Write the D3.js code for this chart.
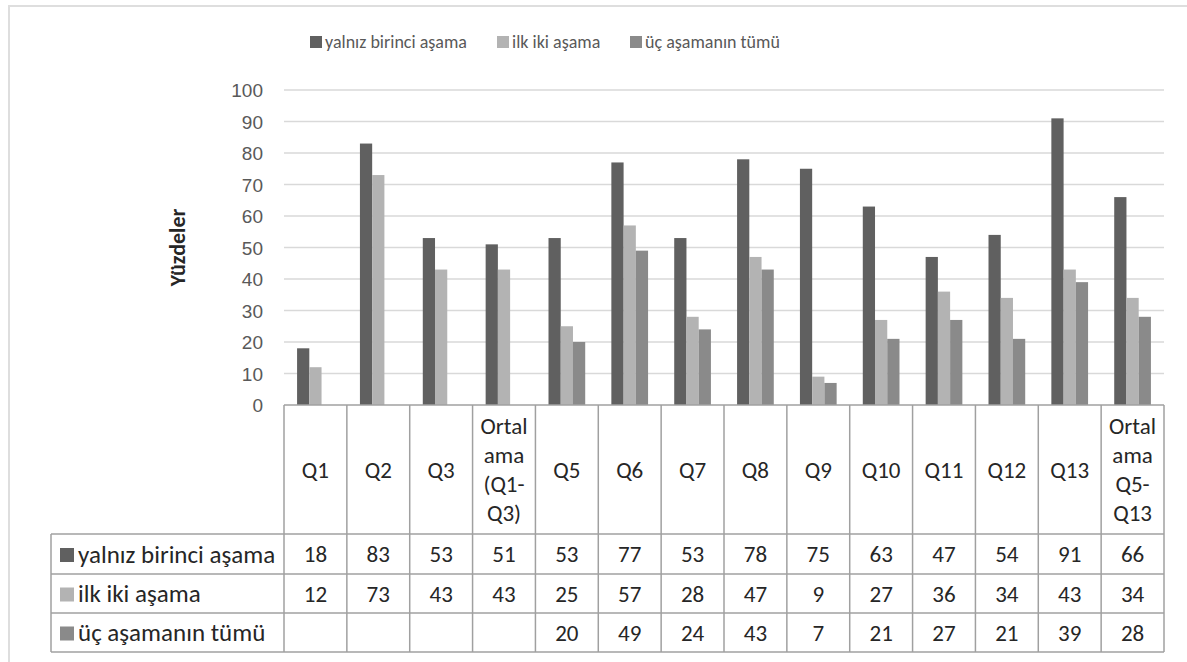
<!DOCTYPE html>
<html>
<head>
<meta charset="utf-8">
<script src="https://cdn.jsdelivr.net/npm/d3@7"></script>
<style>
  html, body { margin: 0; padding: 0; background: #fff; }
  svg { display: block; font-family: Calibri, Carlito, Lato, sans-serif; }
</style>
</head>
<body>
<svg id="chart" width="1187" height="662"></svg>
<script>
// ---------- data ----------
const categories = ["Q1", "Q2", "Q3", "Ortal\nama\n(Q1-\nQ3)", "Q5", "Q6", "Q7", "Q8", "Q9", "Q10", "Q11", "Q12", "Q13", "Ortal\nama\nQ5-\nQ13"];
const seriesNames = ["yalnız birinci aşama", "ilk iki aşama", "üç aşamanın tümü"];
const firstStage = [18, 83, 53, 51, 53, 77, 53, 78, 75, 63, 47, 54, 91, 66];
const firstTwoStages = [12, 73, 43, 43, 25, 57, 28, 47, 9, 27, 36, 34, 43, 34];
const allThreeStages = [null, null, null, null, 20, 49, 24, 43, 7, 21, 27, 21, 39, 28];
const yTicks = [0, 10, 20, 30, 40, 50, 60, 70, 80, 90, 100];
const yTitle = "Yüzdeler";
const seriesColors = ["#606060", "#b3b3b3", "#8a8a8a"];

const seriesValues = [firstStage, firstTwoStages, allThreeStages];

// ---------- layout ----------
const svg = d3.select("#chart");
const plotLeft = 284, plotRight = 1164;
const plotTop = 90, plotBottom = 405;
const tableLeft = 51;
const headerBottom = 534;
const rowBottoms = [574, 613, 652];
const gridColor = "#d9d9d9";
const tableColor = "#a0a0a0";
const tableFont = "23px";
const rowLabelFont = "25px";

// outer frame
svg.append("rect")
  .attr("x", 9).attr("y", 6)
  .attr("width", 1200).attr("height", 700)
  .attr("fill", "none").attr("stroke", "#dedede").attr("stroke-width", 2);

// scales
const x0 = d3.scaleBand().domain(categories).range([plotLeft, plotRight]).padding(0);
const bw = x0.bandwidth();
const gap = bw * 0.416;
const x1 = d3.scaleBand().domain(seriesNames).range([gap / 2, bw - gap / 2]).padding(0);
const y = d3.scaleLinear().domain([0, 100]).range([plotBottom, plotTop]);

// y axis labels
const yAxis = d3.axisLeft(y).tickValues(yTicks).tickSize(0).tickPadding(0);
const gAxis = svg.append("g").attr("transform", `translate(${263},0)`).call(yAxis);
gAxis.select(".domain").remove();
gAxis.selectAll("text")
  .attr("fill", "#595959")
  .style("font-size", "19px")
  .attr("dy", "0.35em")
  .attr("x", 0);

// gridlines
svg.append("g").selectAll("line")
  .data(yTicks.filter(t => t > 0))
  .join("line")
  .attr("x1", plotLeft).attr("x2", plotRight)
  .attr("y1", d => y(d)).attr("y2", d => y(d))
  .attr("stroke", gridColor).attr("stroke-width", 1.5);

// y title
svg.append("text")
  .attr("transform", `translate(185,${(plotTop + plotBottom) / 2}) rotate(-90)`)
  .attr("text-anchor", "middle")
  .attr("fill", "#262626")
  .style("font-size", "22px")
  .style("font-weight", "bold")
  .text(yTitle);

// bars
const barData = [];
categories.forEach((c, i) => {
  seriesNames.forEach((s, j) => {
    const v = seriesValues[j][i];
    if (v != null) barData.push({ c, s, v, j });
  });
});
svg.append("g").selectAll("rect")
  .data(barData)
  .join("rect")
  .attr("x", d => x0(d.c) + x1(d.s))
  .attr("width", x1.bandwidth())
  .attr("y", d => y(d.v))
  .attr("height", d => y(0) - y(d.v))
  .attr("fill", d => seriesColors[d.j]);

// legend
const legendItems = [
  { name: seriesNames[0], x: 310 },
  { name: seriesNames[1], x: 497 },
  { name: seriesNames[2], x: 630 }
];
const lg = svg.append("g").selectAll("g").data(legendItems).join("g")
  .attr("transform", d => `translate(${d.x},42)`);
lg.append("rect").attr("x", 0).attr("y", -6).attr("width", 12).attr("height", 12)
  .attr("fill", (d, i) => seriesColors[i]);
lg.append("text").attr("x", 15).attr("dy", "0.35em")
  .attr("fill", "#595959").style("font-size", "18px")
  .text(d => d.name);

// ---------- data table ----------
const tg = svg.append("g");
const lineStyle = sel => sel.attr("stroke", tableColor).attr("stroke-width", 1.5).attr("fill", "none");

// horizontal lines
tg.append("line").attr("x1", plotLeft).attr("x2", plotRight).attr("y1", plotBottom).attr("y2", plotBottom).call(lineStyle);
tg.append("line").attr("x1", tableLeft).attr("x2", plotRight).attr("y1", headerBottom).attr("y2", headerBottom).call(lineStyle);
rowBottoms.forEach(yb => {
  tg.append("line").attr("x1", tableLeft).attr("x2", plotRight).attr("y1", yb).attr("y2", yb).call(lineStyle);
});
// vertical lines
const colEdges = categories.map(c => x0(c)).concat([plotRight]);
colEdges.forEach(xv => {
  tg.append("line").attr("x1", xv).attr("x2", xv).attr("y1", plotBottom).attr("y2", rowBottoms[2]).call(lineStyle);
});
tg.append("line").attr("x1", tableLeft).attr("x2", tableLeft).attr("y1", headerBottom).attr("y2", rowBottoms[2]).call(lineStyle);

// header labels
const headerMid = (plotBottom + headerBottom) / 2;
const lineH = 29;
categories.forEach(c => {
  const lines = c.split("\n");
  const t = tg.append("text")
    .attr("text-anchor", "middle")
    .attr("fill", "#262626")
    .style("font-size", tableFont);
  lines.forEach((ln, k) => {
    t.append("tspan")
      .attr("x", x0(c) + bw / 2)
      .attr("y", headerMid + (k - (lines.length - 1) / 2) * lineH)
      .attr("dy", "0.35em")
      .text(ln);
  });
});

// row labels and values
const rowTops = [headerBottom, rowBottoms[0], rowBottoms[1]];
seriesNames.forEach((s, j) => {
  const cy = (rowTops[j] + rowBottoms[j]) / 2;
  tg.append("rect").attr("x", 60).attr("y", cy - 6).attr("width", 14).attr("height", 14)
    .attr("fill", seriesColors[j]);
  tg.append("text").attr("x", 78).attr("y", cy).attr("dy", "0.35em")
    .attr("fill", "#262626").style("font-size", rowLabelFont).text(s);
  categories.forEach((c, i) => {
    const v = seriesValues[j][i];
    if (v == null) return;
    tg.append("text").attr("x", x0(c) + bw / 2).attr("y", cy).attr("dy", "0.35em")
      .attr("text-anchor", "middle").attr("fill", "#262626").style("font-size", tableFont)
      .text(v);
  });
});
</script>
</body>
</html>
